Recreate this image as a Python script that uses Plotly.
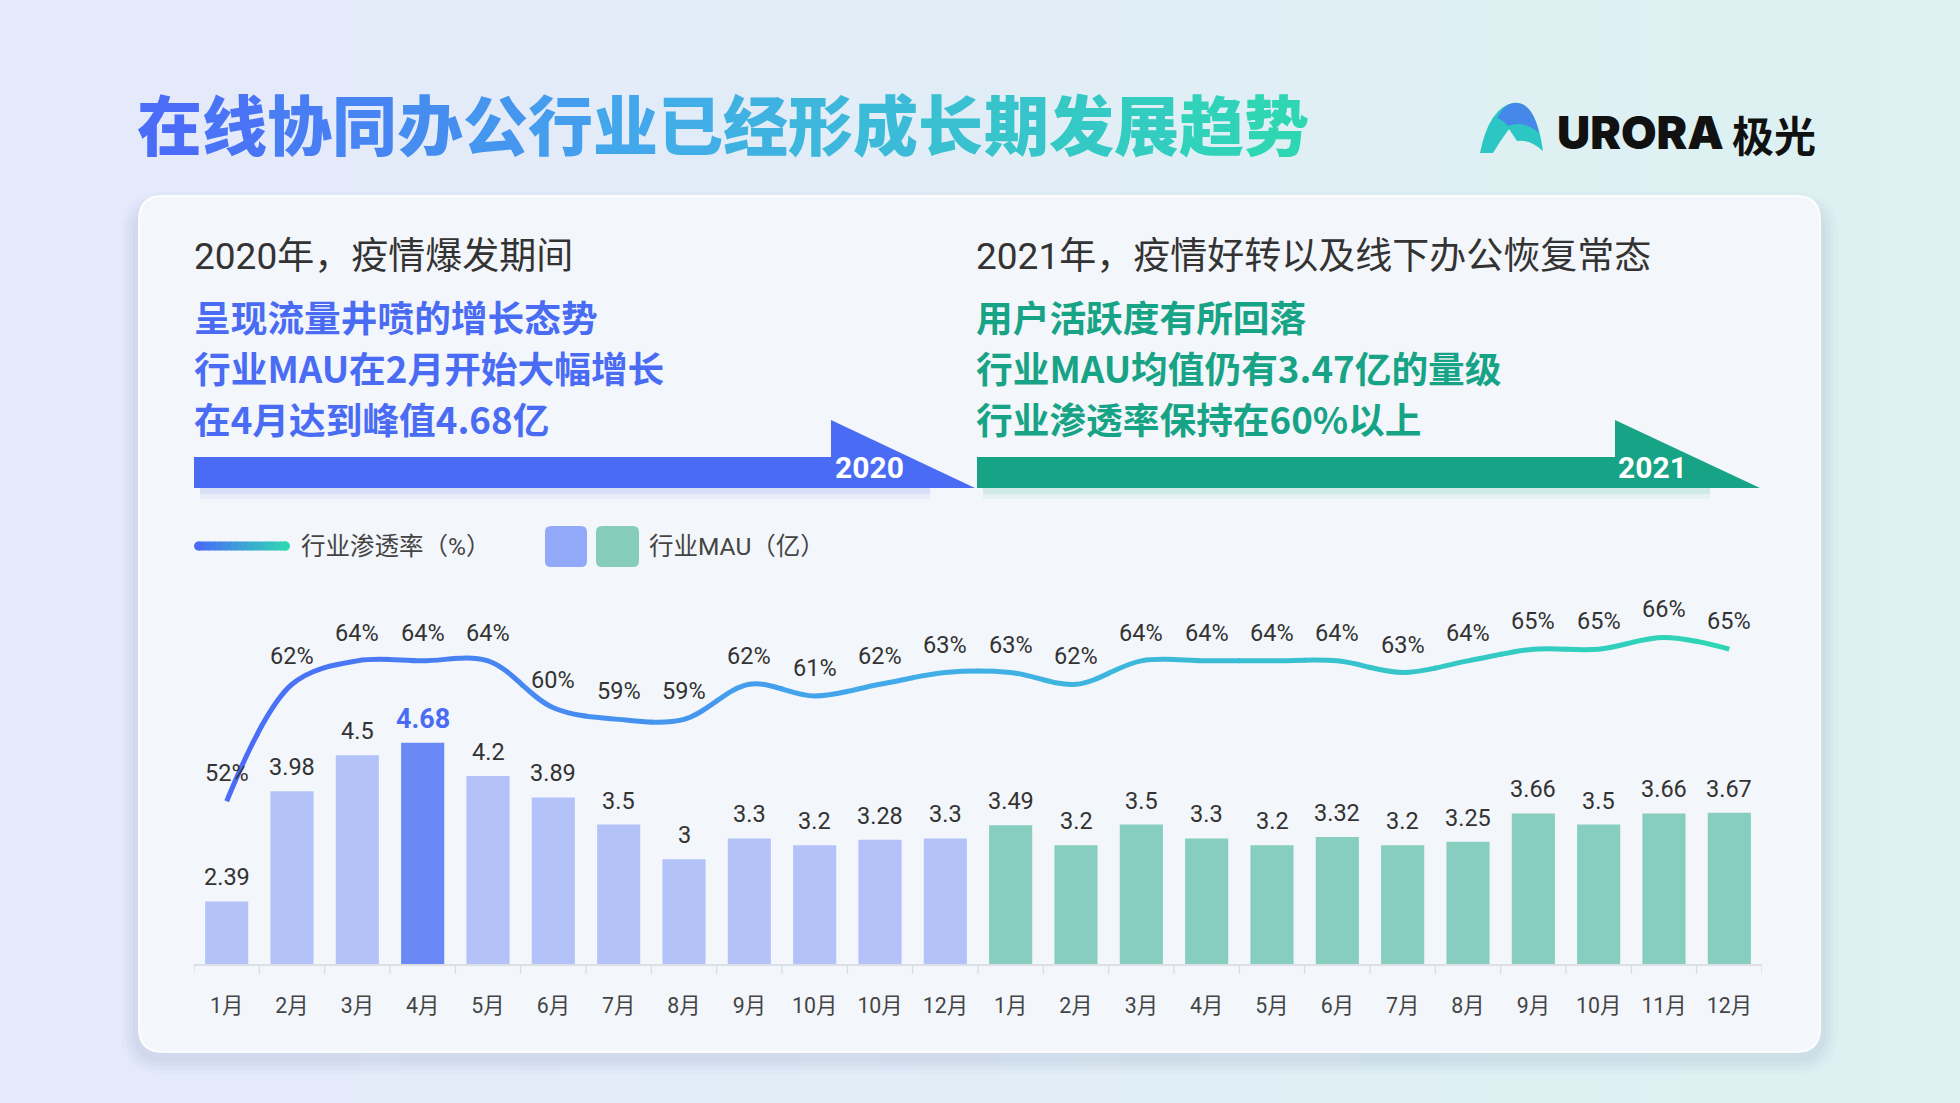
import plotly.graph_objects as go

W, H = 1960, 1103

# ---------------- data ----------------
months = ["1月", "2月", "3月", "4月", "5月", "6月", "7月", "8月", "9月", "10月", "10月", "12月",
          "1月", "2月", "3月", "4月", "5月", "6月", "7月", "8月", "9月", "10月", "11月", "12月"]
years = ["2020"] * 12 + ["2021"] * 12
mau = [2.39, 3.98, 4.5, 4.68, 4.2, 3.89, 3.5, 3, 3.3, 3.2, 3.28, 3.3,
       3.49, 3.2, 3.5, 3.3, 3.2, 3.32, 3.2, 3.25, 3.66, 3.5, 3.66, 3.67]
rate = [52, 62, 64, 64, 64, 60, 59, 59, 62, 61, 62, 63,
        63, 62, 64, 64, 64, 64, 63, 64, 65, 65, 66, 65]

title = "在线协同办公行业已经形成长期发展趋势"
head_2020 = "2020年，疫情爆发期间"
lines_2020 = ["呈现流量井喷的增长态势", "行业MAU在2月开始大幅增长", "在4月达到峰值4.68亿"]
head_2021 = "2021年，疫情好转以及线下办公恢复常态"
lines_2021 = ["用户活跃度有所回落", "行业MAU均值仍有3.47亿的量级", "行业渗透率保持在60%以上"]
legend_line = "行业渗透率（%）"
legend_bar = "行业MAU（亿）"

# ---------------- style ----------------
FONT = 'Roboto, "Noto Sans CJK SC", sans-serif'
CJK = '"Noto Sans CJK SC", Roboto, sans-serif'
BLUE = "#4a6cf5"
GREEN = "#17a385"
BAR20 = "#b3c3fa"
BAR20_HI = "#6a88f6"
BAR21 = "#88cec0"
GRAD = [(0.0, (74, 108, 247)), (0.45, (66, 172, 234)), (1.0, (46, 214, 180))]

X0, X1 = 194, 1762          # plot area, px
YB, YT = 964, 600
BAR_RANGE = [1.488, 6.739]
LINE_RANGE = [38.1, 69.2]


def grad_color(t, stops=GRAD):
    t = max(0.0, min(1.0, t))
    for (t0, c0), (t1, c1) in zip(stops[:-1], stops[1:]):
        if t <= t1:
            f = (t - t0) / (t1 - t0) if t1 > t0 else 0
            return "rgb(%d,%d,%d)" % tuple(round(a + (b - a) * f) for a, b in zip(c0, c1))
    return "rgb(%d,%d,%d)" % stops[-1][1]


def mix(c0, c1, f):
    return "rgb(%d,%d,%d)" % tuple(round(a + (b - a) * f) for a, b in zip(c0, c1))


def px(x):
    return x / W


def py(y):
    return 1 - y / H


def rrect(x0, y0, x1, y1, r):
    P = lambda x, y: "%.5f,%.5f" % (px(x), py(y))
    return ("M" + P(x0 + r, y0) + " L" + P(x1 - r, y0) + " Q" + P(x1, y0) + " " + P(x1, y0 + r) +
            " L" + P(x1, y1 - r) + " Q" + P(x1, y1) + " " + P(x1 - r, y1) +
            " L" + P(x0 + r, y1) + " Q" + P(x0, y1) + " " + P(x0, y1 - r) +
            " L" + P(x0, y0 + r) + " Q" + P(x0, y0) + " " + P(x0 + r, y0) + " Z")


def poly(pts):
    return "M" + " L".join("%.5f,%.5f" % (px(x), py(y)) for x, y in pts) + " Z"


shapes = []
annotations = []


def ann(text, x, y, size, color, weight="normal", xanchor="left", family=FONT):
    annotations.append(dict(text=text, x=px(x), y=py(y), xref="paper", yref="paper",
                            xanchor=xanchor, yanchor="middle", showarrow=False,
                            font=dict(family=family, size=size, color=color, weight=weight)))


# background gradient strips
step = 40
for i in range(0, W, step):
    f = i / W
    shapes.append(dict(type="rect", xref="paper", yref="paper", x0=px(i), x1=px(min(W, i + step + 1)),
                       y0=0, y1=1, line=dict(width=0), fillcolor=mix((229, 233, 251), (221, 242, 241), f),
                       layer="below"))

# card shadow + card
for k, a in enumerate([0.025, 0.03, 0.035, 0.04]):
    g = 18 - k * 4
    shapes.append(dict(type="path", xref="paper", yref="paper",
                       path=rrect(139 - g, 196 - g + 14, 1820 + g, 1052 + g + 4, 24 + g),
                       fillcolor="rgba(90,110,160,%.3f)" % a, line=dict(width=0), layer="below"))
shapes.append(dict(type="path", xref="paper", yref="paper", path=rrect(139, 196, 1820, 1052, 24),
                   fillcolor="#f3f6fa", line=dict(color="rgba(255,255,255,0.9)", width=2), layer="below"))

# arrows
for y_off, a in [(6, 0.10), (11, 0.06)]:
    shapes.append(dict(type="rect", xref="paper", yref="paper", x0=px(200), x1=px(930),
                       y0=py(488 + y_off), y1=py(486), fillcolor="rgba(74,108,245,%.2f)" % a,
                       line=dict(width=0), layer="below"))
    shapes.append(dict(type="rect", xref="paper", yref="paper", x0=px(983), x1=px(1710),
                       y0=py(488 + y_off), y1=py(486), fillcolor="rgba(23,163,133,%.2f)" % a,
                       line=dict(width=0), layer="below"))
shapes.append(dict(type="path", xref="paper", yref="paper",
                   path=poly([(194, 457), (831, 457), (831, 420), (975, 488), (194, 488)]),
                   fillcolor=BLUE, line=dict(width=0), layer="below"))
shapes.append(dict(type="path", xref="paper", yref="paper",
                   path=poly([(977, 457), (1615, 457), (1615, 420), (1760, 488), (977, 488)]),
                   fillcolor=GREEN, line=dict(width=0), layer="below"))
ann("<b>2020</b>", 869, 467, 30, "white", xanchor="center")
ann("<b>2021</b>", 1652, 467, 30, "white", xanchor="center")

# logo
P = lambda x, y: "%.5f,%.5f" % (px(x), py(y))
logo = ("M" + P(1480, 153) + " Q" + P(1489, 108) + " " + P(1513, 103) +
        " Q" + P(1536, 100) + " " + P(1543, 151) +
        " Q" + P(1530, 139) + " " + P(1517, 141) + " L" + P(1509, 129) +
        " Q" + P(1500, 141) + " " + P(1493, 153) + " Z")
shapes.append(dict(type="path", xref="paper", yref="paper", path=logo, fillcolor="#2cc7c4",
                   line=dict(width=0), layer="below"))
logo_top = ("M" + P(1497, 118) + " Q" + P(1505, 103) + " " + P(1514, 103) +
            " Q" + P(1532, 101) + " " + P(1539, 133) + " Q" + P(1524, 120) + " " + P(1508, 126) +
            " Q" + P(1503, 120) + " " + P(1497, 118) + " Z")
shapes.append(dict(type="path", xref="paper", yref="paper", path=logo_top, fillcolor="#4a7cf0",
                   opacity=0.85, line=dict(width=0), layer="below"))
ann("URORA", 1555, 132, 46, "#111111", weight=900, family="Inter, Lato, sans-serif")
ann("极光", 1730, 133, 42, "#111111", weight="bold", family=CJK)

# title with per-character gradient
t_left, t_right = 137, 1309
cw = (t_right - t_left) / len(title)
for i, ch in enumerate(title):
    ann(ch, t_left + cw * (i + 0.5), 122, 65, grad_color(i / (len(title) - 1)), weight=900,
        xanchor="center", family=CJK)

# text blocks
ann(head_2020, 192, 256, 37, "#333333", family=FONT)
ann(head_2021, 974, 256, 37, "#333333", family=FONT)
for j, (a, b) in enumerate(zip(lines_2020, lines_2021)):
    ann(a, 192, 316 + j * 51, 36.7, BLUE, weight="bold", family=CJK)
    ann(b, 974, 316 + j * 51, 36.7, GREEN, weight="bold", family=CJK)

# legend
nseg = 16
for i in range(nseg):
    xa = 198 + (286 - 198) * i / nseg
    xb = 198 + (286 - 198) * (i + 1) / nseg + 0.8
    shapes.append(dict(type="line", xref="paper", yref="paper", x0=px(xa), x1=px(xb), y0=py(546), y1=py(546),
                       line=dict(color=grad_color((i + 0.5) / nseg, [(0, (74, 108, 247)), (1, (46, 214, 180))]),
                                 width=9)))
shapes.append(dict(type="circle", xref="paper", yref="paper", x0=px(194), x1=px(203), y0=py(550.5), y1=py(541.5),
                   fillcolor="rgb(74,108,247)", line=dict(width=0)))
shapes.append(dict(type="circle", xref="paper", yref="paper", x0=px(281), x1=px(290), y0=py(550.5), y1=py(541.5),
                   fillcolor="rgb(46,214,180)", line=dict(width=0)))
ann(legend_line, 299, 546, 24.5, "#444444")
shapes.append(dict(type="path", xref="paper", yref="paper", path=rrect(545, 526, 587, 567, 6),
                   fillcolor="#92a8f8", line=dict(width=0)))
shapes.append(dict(type="path", xref="paper", yref="paper", path=rrect(596, 526, 639, 567, 6),
                   fillcolor="#86cdbe", line=dict(width=0)))
ann(legend_bar, 647, 546, 24.5, "#444444")

# ---------------- chart ----------------
idx = list(range(len(months)))
peak = max(range(12), key=lambda i: mau[i])
bar_colors = [(BAR20_HI if i == peak else BAR20) if years[i] == "2020" else BAR21 for i in idx]

fig = go.Figure()
fig.add_trace(go.Bar(x=idx, y=mau, width=0.66, marker=dict(color=bar_colors, line=dict(width=0)),
                     hoverinfo="skip", showlegend=False))

layout_axes = {}
n = len(idx)
s = (X1 - X0) / n
for k in range(n):
    pa = X0 + k * s - (0 if k == 0 else 0.8)
    pb = X0 + (k + 1) * s + (0 if k == n - 1 else 0.8)
    r0 = (pa - X0) / s - 0.5
    r1 = (pb - X0) / s - 0.5
    layout_axes["xaxis%d" % (k + 2)] = dict(domain=[pa / W, pb / W], range=[r0, r1], visible=False,
                                           anchor="y2", fixedrange=True)
    a, b = max(0, k - 3), min(n, k + 4)
    fig.add_trace(go.Scatter(x=idx[a:b], y=rate[a:b], mode="lines", xaxis="x%d" % (k + 2), yaxis="y2",
                             line=dict(color=grad_color(k / (n - 1)), width=5, shape="spline",
                                       smoothing=1.0, simplify=False),
                             hoverinfo="skip", showlegend=False))

# value labels
for i in idx:
    hi = i == peak
    annotations.append(dict(text=f"{mau[i]:g}", x=i, y=mau[i], xref="x", yref="y", yshift=24,
                            showarrow=False, yanchor="middle",
                            font=dict(family=FONT, size=27 if hi else 23.5, color=BLUE if hi else "#333333",
                                      weight="bold" if hi else "normal")))
    annotations.append(dict(text=f"{rate[i]}%", x=i, y=rate[i], xref="x", yref="y2", yshift=28,
                            showarrow=False, yanchor="middle",
                            font=dict(family=FONT, size=23.5, color="#333333")))

# category boundary ticks
for b in range(n + 1):
    shapes.append(dict(type="line", xref="x", yref="paper", x0=b - 0.5, x1=b - 0.5,
                       y0=py(YB + 1), y1=py(YB + 10), line=dict(color="#dcdfe6", width=1.5)))

ydom = [py(YB), py(YT)]
fig.update_layout(
    width=W, height=H, autosize=False,
    margin=dict(l=0, r=0, t=0, b=0),
    paper_bgcolor="#e4ebf8", plot_bgcolor="rgba(0,0,0,0)",
    hovermode=False, showlegend=False, bargap=0.34,
    xaxis=dict(domain=[X0 / W, X1 / W], range=[-0.5, n - 0.5], tickmode="array", tickvals=idx,
               ticktext=months, showline=True, linecolor="#dcdfe6", linewidth=2, ticks="",
               showgrid=False, zeroline=False, ticklabelstandoff=21,
               tickfont=dict(family=FONT, size=21.3, color="#444444"), fixedrange=True),
    yaxis=dict(domain=ydom, range=BAR_RANGE, visible=False, fixedrange=True),
    yaxis2=dict(domain=ydom, range=LINE_RANGE, visible=False, anchor="x", fixedrange=True),
    shapes=shapes, annotations=annotations,
    **layout_axes,
)

fig.write_html("out.html")
